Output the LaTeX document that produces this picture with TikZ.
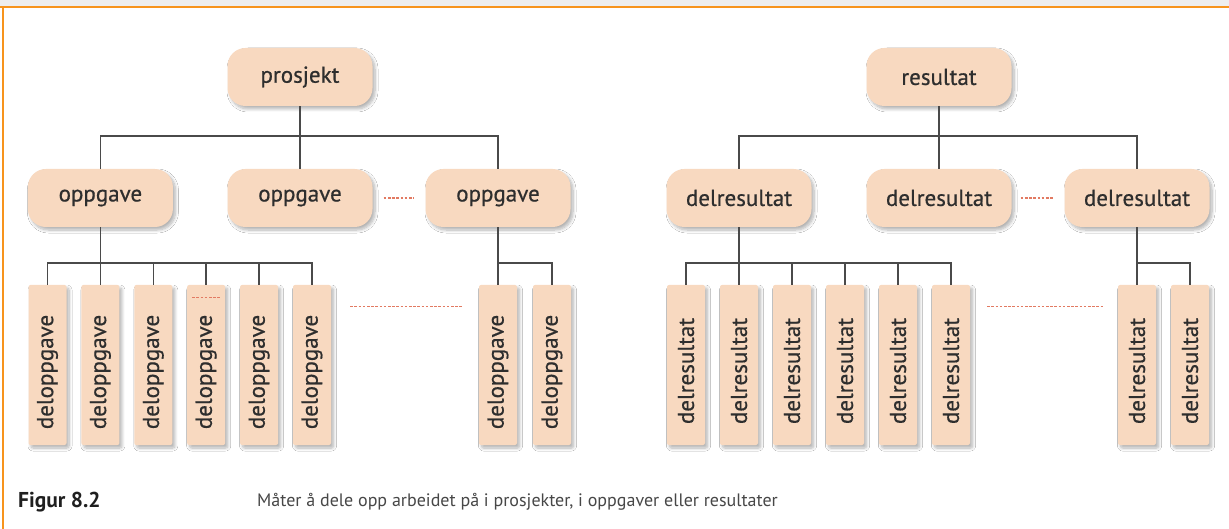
\documentclass[tikz,border=0pt]{standalone}
\usepackage{fontspec}
\setmainfont{PT Sans}
\newfontfamily\boxfont{PT Sans}[FakeBold=0.6]
\usetikzlibrary{shadows.blur}
\definecolor{boxfill}{HTML}{F8D9C0}
\definecolor{txt}{HTML}{2E2E2E}
\definecolor{linec}{HTML}{4A4A4A}
\definecolor{dashc}{HTML}{E27A62}
\definecolor{frameor}{HTML}{F7941D}
\definecolor{topgray}{HTML}{EEEEEE}
\begin{document}
\begin{tikzpicture}[x=1pt,y=-1pt,
  shade/.style={blur shadow={shadow xshift=2.5pt, shadow yshift=-3pt, shadow blur steps=8, shadow blur radius=3pt, shadow opacity=30}},
  hbox/.style={shade, rounded corners=18pt, fill=boxfill, minimum width=145pt, minimum height=58pt, inner sep=0pt, font=\boxfont\fontsize{23}{26}\selectfont, text=txt},
  vbox/.style={shade, rounded corners=2pt, fill=boxfill, minimum width=38pt, minimum height=160pt, inner sep=0pt},
  vtxt/.style={rotate=90, inner sep=0pt, font=\boxfont\fontsize{23}{26}\selectfont, text=txt},
  conn/.style={draw=linec, line width=1.6pt},
  dots/.style={draw=dashc, line width=1.3pt, dash pattern=on 2.6pt off 1.6pt}]
\useasboundingbox (0,0) rectangle (1229,529);
\fill[white] (0,0) rectangle (1229,529);
\fill[topgray] (0,0) rectangle (1229,6.5);
\draw[frameor, line width=2pt] (0,7.5) -- (1229,7.5);
\draw[frameor, line width=2pt] (3,7.5) -- (3,529);

% ---------- left tree ----------
\node[hbox] (p) at (300,77) {prosjekt};
\node[hbox] (o1) at (100.4,198) {oppgave};
\node[hbox] (o2) at (300,198) {oppgave};
\node[hbox] (o3) at (498,198) {oppgave};
\coordinate (pb) at (300,136);
\draw[conn] (p.south) -- (o2.north);
\draw[conn] (o1.north) |- (pb) -| (o3.north);
\draw[dots] ([xshift=11pt]o2.east) -- ([xshift=-11pt]o3.west);

\foreach \i/\x in {1/47.5,2/100.4,3/153.3,4/206.2,5/259.1,6/312}{
  \node[vbox] (d\i) at (\x,365) {};
  \node[vtxt] (dt\i) at (\x,372) {deloppgave};
}
\node[vbox] (e1) at (498,365) {};
\node[vtxt] (et1) at (498,372) {deloppgave};
\node[vbox] (e2) at (552,365) {};
\node[vtxt] (et2) at (552,372) {deloppgave};

\draw[conn] (o1.south) -- (d2.north);
\draw[conn] (d1.north) -- ++(0,-22) -| (d6.north);
\foreach \i in {3,4,5}{\draw[conn] (d\i.north) -- ++(0,-22);}
\draw[conn] (o3.south) -- (e1.north);
\draw[conn] (e1.north |- 0,263) -| (e2.north);
\draw[dots] ([xshift=-14pt,yshift=-13pt]d4.north) -- ([xshift=14pt,yshift=-13pt]d4.north);
\draw[dots] ([xshift=19pt,yshift=-22pt]d6.north east) -- ([xshift=-16pt,yshift=-22pt]e1.north west);

% ---------- right tree ----------
\node[hbox] (r) at (939,77) {resultat};
\node[hbox] (s1) at (739,198) {delresultat};
\node[hbox] (s2) at (939,198) {delresultat};
\node[hbox] (s3) at (1137,198) {delresultat};
\coordinate (rb) at (939,136);
\draw[conn] (r.south) -- (s2.north);
\draw[conn] (s1.north) |- (rb) -| (s3.north);
\draw[dots] ([xshift=9pt]s2.east) -- ([xshift=-11pt]s3.west);

\foreach \i/\x in {1/686,2/739,3/792,4/845,5/898,6/951}{
  \node[vbox] (g\i) at (\x,365) {};
  \node[vtxt] (gt\i) at (\x,371) {delresultat};
}
\node[vbox] (f1) at (1137,365) {};
\node[vtxt] (ft1) at (1137,371) {delresultat};
\node[vbox] (f2) at (1190,365) {};
\node[vtxt] (ft2) at (1190,371) {delresultat};

\draw[conn] (s1.south) -- (g2.north);
\draw[conn] (g1.north) -- ++(0,-22) -| (g6.north);
\foreach \i in {3,4,5}{\draw[conn] (g\i.north) -- ++(0,-22);}
\draw[conn] (s3.south) -- (f1.north);
\draw[conn] (f1.north |- 0,263) -| (f2.north);
\draw[dots] ([xshift=17pt,yshift=-22pt]g6.north east) -- ([xshift=-14pt,yshift=-22pt]f1.north west);

% ---------- caption ----------
\node[anchor=base west, inner sep=0pt, font=\fontsize{21.5}{24}\selectfont\bfseries, text=black!88] (fig) at (18,507) {Figur 8.2};
\node[anchor=base west, inner sep=0pt, font=\fontsize{18}{21}\selectfont, text=black!72] (cap) at (257,506) {Måter å dele opp arbeidet på i prosjekter, i oppgaver eller resultater};
\end{tikzpicture}
\end{document}
